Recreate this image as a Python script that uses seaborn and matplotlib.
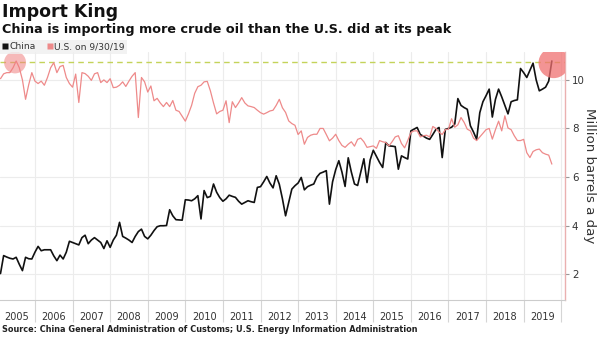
import matplotlib
matplotlib.use("Agg")
import matplotlib.pyplot as plt
from matplotlib.lines import Line2D
import seaborn as sns
import numpy as np
import pandas as pd

# ---- data (monthly, Jan 2005 .. Sep 2019), million barrels a day ----
china_2005 = [2.02, 2.76, 2.70, 2.65, 2.62, 2.69, 2.40, 2.14, 2.69, 2.63, 2.62, 2.90]
china_2006 = [3.14, 2.96, 3.00, 3.00, 3.00, 2.75, 2.55, 2.78, 2.62, 2.90, 3.35, 3.30]
china_2007 = [3.25, 3.20, 3.50, 3.60, 3.25, 3.40, 3.50, 3.40, 3.30, 3.05, 3.37, 3.10]
china_2008 = [3.40, 3.60, 4.13, 3.55, 3.48, 3.40, 3.30, 3.55, 3.75, 3.85, 3.55, 3.45]
china_2009 = [3.60, 3.79, 3.95, 3.99, 3.99, 4.00, 4.65, 4.40, 4.24, 4.23, 4.22, 5.06]
china_2010 = [5.05, 5.02, 5.10, 5.23, 4.27, 5.44, 5.15, 5.20, 5.71, 5.37, 5.15, 5.00]
china_2011 = [5.10, 5.25, 5.20, 5.16, 5.00, 4.88, 4.95, 5.02, 4.98, 4.95, 5.57, 5.60]
china_2012 = [5.80, 6.02, 5.75, 5.55, 6.05, 5.70, 5.10, 4.40, 4.95, 5.50, 5.64, 5.75]
china_2013 = [5.98, 5.47, 5.60, 5.66, 5.71, 6.00, 6.15, 6.20, 6.26, 4.88, 5.80, 6.30]
china_2014 = [6.67, 6.20, 5.61, 6.79, 6.20, 5.71, 5.65, 6.20, 6.75, 5.77, 6.70, 7.10]
china_2015 = [6.85, 6.60, 6.39, 7.42, 7.28, 7.27, 7.25, 6.32, 6.87, 6.80, 6.74, 7.90]
china_2016 = [7.97, 8.04, 7.75, 7.68, 7.60, 7.55, 7.75, 7.96, 8.04, 6.80, 7.96, 8.00]
china_2017 = [8.05, 8.18, 9.23, 8.95, 8.86, 8.79, 8.11, 7.85, 7.55, 8.65, 9.10, 9.35]
china_2018 = [9.62, 8.47, 9.20, 9.62, 9.30, 8.95, 8.60, 9.10, 9.15, 9.18, 10.47, 10.30]
china_2019 = [10.10, 10.40, 10.69, 10.00, 9.55, 9.62, 9.70, 9.95, 10.78]

us_2005 = [10.05, 10.25, 10.30, 10.30, 10.50, 10.78, 10.50, 10.00, 9.20, 9.80, 10.30, 9.95]
us_2006 = [9.85, 9.95, 9.78, 10.10, 10.50, 10.71, 10.30, 10.55, 10.60, 10.10, 9.85, 9.70]
us_2007 = [10.24, 9.07, 10.30, 10.26, 10.15, 9.98, 10.25, 10.30, 9.89, 10.00, 9.89, 10.05]
us_2008 = [9.68, 9.70, 9.78, 9.92, 9.73, 9.95, 10.15, 10.30, 8.45, 10.10, 9.92, 9.50]
us_2009 = [9.75, 9.14, 9.24, 9.05, 8.90, 9.07, 8.90, 9.15, 8.75, 8.70, 8.50, 8.30]
us_2010 = [8.60, 8.95, 9.45, 9.72, 9.78, 9.92, 9.94, 9.55, 9.05, 8.60, 8.70, 8.75]
us_2011 = [9.14, 8.24, 9.10, 8.86, 9.05, 9.27, 9.05, 8.93, 8.90, 8.86, 8.75, 8.65]
us_2012 = [8.59, 8.65, 8.72, 8.75, 8.95, 9.20, 8.85, 8.66, 8.31, 8.20, 8.13, 7.75]
us_2013 = [7.90, 7.35, 7.63, 7.72, 7.76, 7.76, 8.00, 8.00, 7.75, 7.49, 7.60, 7.76]
us_2014 = [7.50, 7.30, 7.22, 7.35, 7.45, 7.27, 7.55, 7.60, 7.45, 7.22, 7.25, 7.28]
us_2015 = [7.18, 7.50, 7.45, 7.42, 7.28, 7.45, 7.65, 7.70, 7.38, 7.20, 7.50, 7.83]
us_2016 = [7.90, 7.90, 7.65, 7.70, 7.72, 7.65, 8.08, 8.00, 7.85, 7.75, 7.95, 7.97]
us_2017 = [8.40, 8.05, 8.15, 8.45, 8.25, 7.97, 7.90, 7.60, 7.50, 7.65, 7.80, 7.95]
us_2018 = [8.00, 7.56, 7.95, 8.30, 7.90, 8.52, 8.02, 7.95, 7.70, 7.50, 7.50, 7.55]
us_2019 = [7.00, 6.80, 7.05, 7.12, 7.15, 7.00, 6.94, 6.90, 6.53]

series_names = ["China", "U.S. on 9/30/19"]
year_labels = [str(y) for y in range(2005, 2020)]
y_ticks = [2, 4, 6, 8, 10]
us_peak = 10.72
peak_x = [2005.47, 2019.8]
peak_y = [10.72, 10.70]

china = sum([china_2005, china_2006, china_2007, china_2008, china_2009, china_2010,
             china_2011, china_2012, china_2013, china_2014, china_2015, china_2016,
             china_2017, china_2018, china_2019], [])
us = sum([us_2005, us_2006, us_2007, us_2008, us_2009, us_2010, us_2011, us_2012,
          us_2013, us_2014, us_2015, us_2016, us_2017, us_2018, us_2019], [])

n = len(china)
t = 2005 + (np.arange(n) + 1) / 12.0
df = pd.DataFrame({
    "t": np.concatenate([t, t]),
    "value": china + us,
    "series": [series_names[0]] * n + [series_names[1]] * len(us),
})

colors = {series_names[0]: "#111111", series_names[1]: "#ee8a8a"}

sns.set_theme(style="white")
plt.rcParams["font.family"] = ["DejaVu Sans"]

W, H = 600, 337
fig = plt.figure(figsize=(W / 100, H / 100), dpi=100)
ax_l, ax_r, ax_t, ax_b = 0, 565, 52, 300
ax = fig.add_axes([ax_l / W, 1 - ax_b / H, (ax_r - ax_l) / W, (ax_b - ax_t) / H])

# grid
for yv in y_ticks:
    ax.axhline(yv, color="#ececec", lw=0.8, zorder=0)
for yr in range(2006, 2021):
    ax.axvline(yr, color="#ececec", lw=0.8, zorder=0)

ax.axhline(us_peak, color="#c4d35a", lw=1.0, ls=(0, (4, 3)), zorder=1)

sns.lineplot(data=df, x="t", y="value", hue="series", palette=colors,
             ax=ax, legend=False, linewidth=1.1, zorder=3)
ax.lines[-2].set_linewidth(1.2)
ax.lines[-1].set_linewidth(0.9)

ax.scatter(peak_x[:1], peak_y[:1], s=250, color="#f08080", alpha=0.55,
           edgecolors="none", zorder=4)
ax.scatter(peak_x[1:], peak_y[1:], s=480, color="#f07070", alpha=0.75,
           edgecolors="none", zorder=4)

ax.set_xlim(2005.07, 2020.10)
ax.set_ylim(0.93, 11.15)

# x axis: separators at year boundaries, labels at mid-year
ax.set_xticks(list(range(2006, 2021)))
ax.set_xticklabels([])
ax.set_xticks([y + 0.5 for y in range(2005, 2020)], minor=True)
ax.set_xticklabels(year_labels, minor=True, fontsize=7, color="#333333")
ax.tick_params(axis="x", which="major", length=16, width=0.8, color="#d5d5d5",
               direction="out", bottom=True)
ax.tick_params(axis="x", which="minor", length=0, pad=9)

# y axis on right
ax.yaxis.tick_right()
ax.yaxis.set_label_position("right")
ax.set_yticks(y_ticks)
ax.set_yticklabels([str(v) for v in y_ticks], fontsize=7.4, color="#333333")
ax.tick_params(axis="y", length=3, width=0.8, color="#999999", pad=2, right=True)
ax.set_ylabel("Million barrels a day", rotation=270, fontsize=9.6, color="#333333",
              labelpad=8)
ax.set_xlabel("")

for s in ["top", "left"]:
    ax.spines[s].set_visible(False)
ax.spines["right"].set_color("#eab0b0")
ax.spines["right"].set_linewidth(1.0)
ax.spines["bottom"].set_color("#cccccc")
ax.spines["bottom"].set_linewidth(0.8)
ax.set_facecolor("white")

# titles
fig.text(2 / W, 1 - 12 / H, "Import King", fontsize=12.5, fontweight="bold",
         va="center", ha="left", color="#111111")
fig.text(2 / W, 1 - 30 / H, "China is importing more crude oil than the U.S. did at its peak",
         fontsize=9.2, fontweight="bold", va="center", ha="left", color="#111111")
fig.text(2 / W, 1 - 330 / H,
         "Source: China General Administration of Customs; U.S. Energy Information Administration",
         fontsize=5.9, fontweight="bold", va="center", ha="left", color="#222222")

# legend
handles = [Line2D([0], [0], marker="s", color="none", markerfacecolor=colors[s],
                  markeredgecolor="none", markersize=4.8) for s in series_names]
leg = fig.legend(handles, series_names, loc="upper left",
                 bbox_to_anchor=(0, 1 - 40 / H), ncol=2, fontsize=6.6,
                 frameon=True, facecolor="#efefef", edgecolor="none",
                 handlelength=0.6, handletextpad=0.2, columnspacing=1.2,
                 borderpad=0.25, borderaxespad=0)
leg.get_frame().set_boxstyle("square", pad=0)
for txt in leg.get_texts():
    txt.set_color("#333333")

fig.savefig("out.png", dpi=100)
